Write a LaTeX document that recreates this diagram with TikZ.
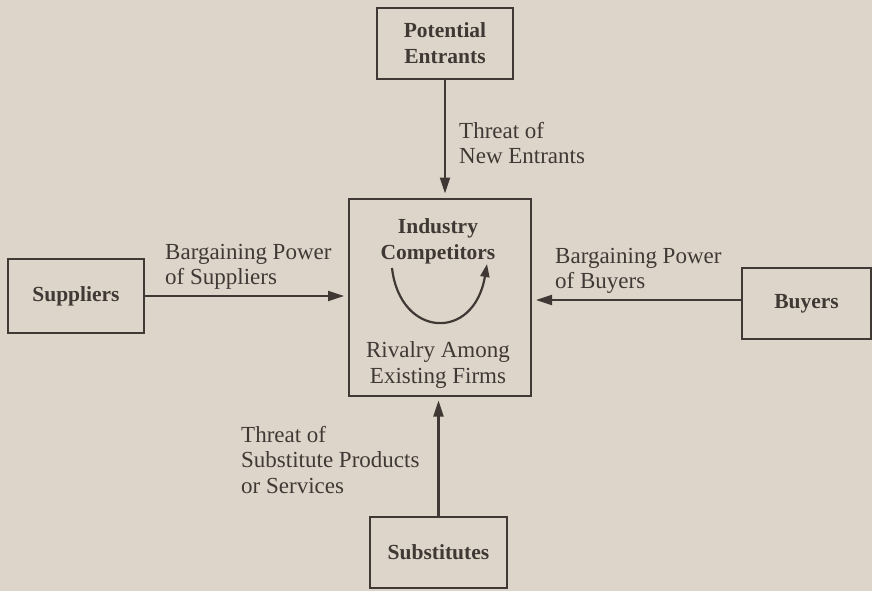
\documentclass[tikz,border=0pt]{standalone}
\usepackage{fontspec}
\setmainfont{Liberation Serif}
\usetikzlibrary{arrows.meta}

\begin{document}
\begin{tikzpicture}[x=1pt, y=-1pt,
	force/.style={draw=ink, line width=2pt, align=center, inner sep=0pt,
		font=\fontsize{21.5}{26}\selectfont\bfseries},
	pressure/.style={anchor=west, align=left, inner sep=0pt, text=ink,
		font=\fontsize{23}{25.5}\selectfont},
	push/.style={draw=ink, line width=2.2pt, -{Triangle[length=16pt, width=10pt]}, shorten >=4pt}]
	\definecolor{paper}{RGB}{222, 213, 202}
	\definecolor{ink}{RGB}{64, 56, 52}
	
	% background
	\fill[paper] (0, 0) rectangle (872, 591);
	\useasboundingbox (0, 0) rectangle (872, 591);
	
	% the five forces
	\node[force, minimum width=182pt, minimum height=197pt] (industry) at (440, 297) {};
	\node[force, minimum width=136pt, minimum height=71pt, text=ink] (entrants) at (445, 43.5) {Potential\\Entrants};
	\node[force, minimum width=136pt, minimum height=74pt, text=ink] (suppliers) at (76, 296) {Suppliers};
	\node[force, minimum width=129pt, minimum height=71pt, text=ink] (buyers) at (806.5, 303.5) {Buyers};
	\node[force, minimum width=137pt, minimum height=71pt, text=ink] (substitutes) at (438.5, 552.5) {Substitutes};
	
	% inside the industry box
	\node[force, draw=none, text=ink] (competitors) at (438, 241) {Industry\\Competitors};
	\node[pressure, anchor=center, align=center] (rivalry) at (438, 365) {Rivalry Among\\Existing Firms};
	\coordinate (rivalstart) at (392, 268);
	\coordinate (rivalend) at (487, 264);
	\draw[push, shorten >=0pt, -{Triangle[length=13pt, width=9pt]}] (rivalstart) .. controls (400, 338) and (474, 342) .. (rivalend);
	
	% arrows
	\draw[push] (entrants.south) -- (entrants.south |- industry.north);
	\draw[push] (suppliers.east) -- (suppliers.east -| industry.west);
	\draw[push] ([yshift=3.5pt]buyers.west) -- ([yshift=3.5pt]buyers.west -| industry.east);
	\draw[push] (substitutes.north) -- (substitutes.north |- industry.south);
	
	% labels
	\node[pressure] (newthreat) at (459, 143) {Threat of\\New Entrants};
	\node[pressure] (supplierpower) at (165, 267) {Bargaining Power\\of Suppliers};
	\node[pressure] (buyerpower) at (555, 271) {Bargaining Power\\of Buyers};
	\node[pressure] (substitutethreat) at (241, 460) {Threat of\\Substitute Products\\or Services};
\end{tikzpicture}
\end{document}
